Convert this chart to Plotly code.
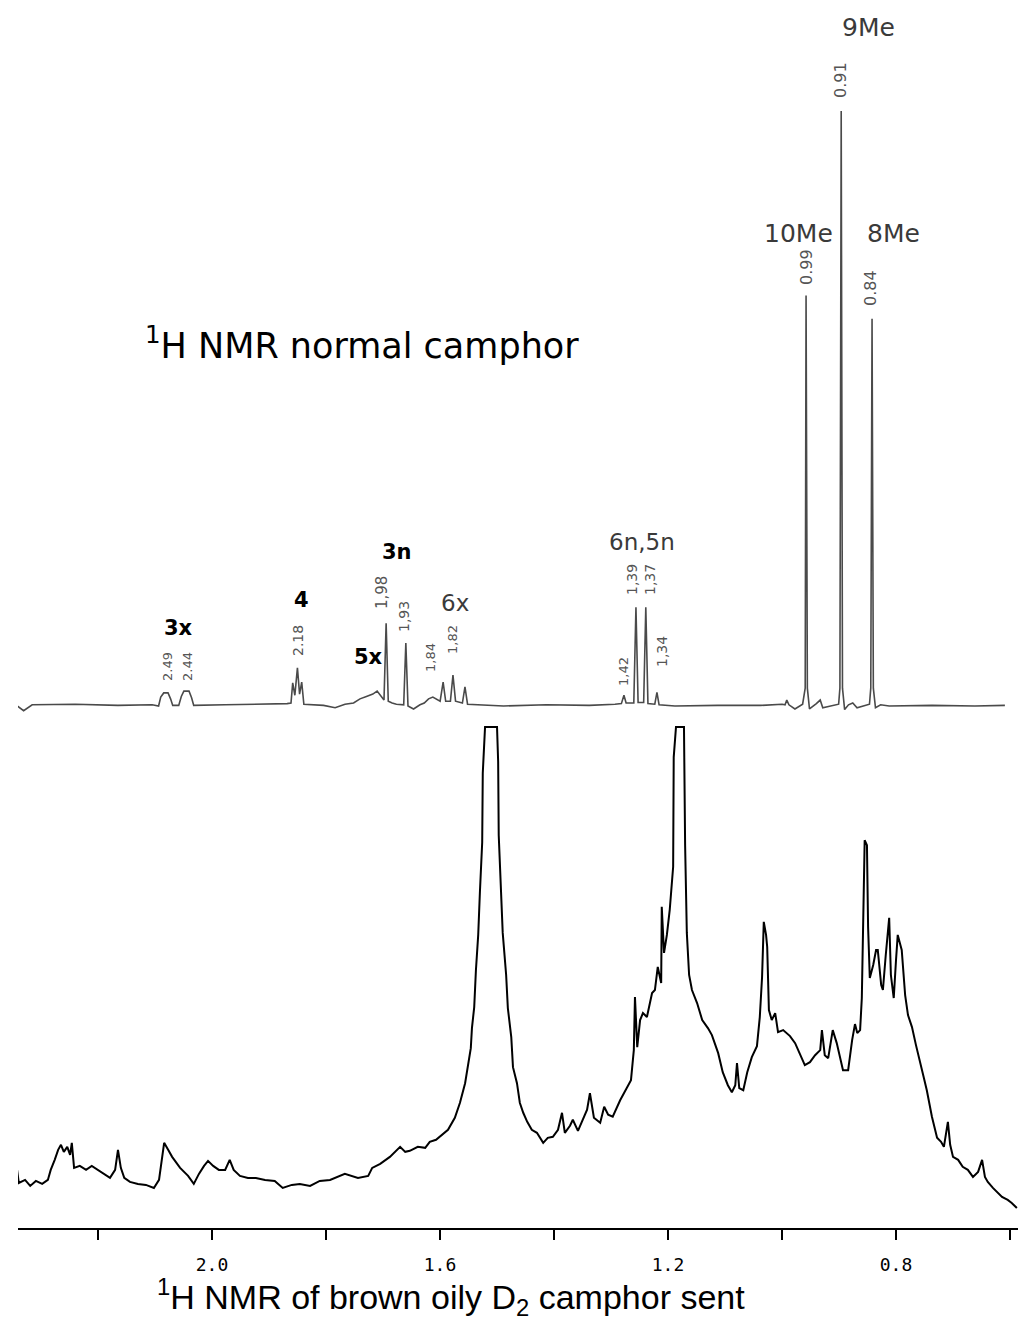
import plotly.graph_objects as go

# ---------------- data ----------------
# Bottom spectrum: 1H NMR of brown oily D2 camphor (ppm, relative intensity; 100 = clipped top)
bottom_ppm = [2.342, 2.339, 2.328, 2.319, 2.309, 2.298, 2.288, 2.283, 2.276, 2.270,
              2.265, 2.260, 2.254, 2.249, 2.246, 2.242, 2.232, 2.221, 2.211, 2.200,
              2.190, 2.179, 2.170, 2.165, 2.160, 2.154, 2.144, 2.130, 2.116, 2.102,
              2.093, 2.088, 2.084, 2.077, 2.070, 2.056, 2.042, 2.032, 2.023, 2.014,
              2.007, 1.998, 1.988, 1.977, 1.969, 1.962, 1.951, 1.937, 1.923, 1.907,
              1.890, 1.876, 1.860, 1.846, 1.828, 1.811, 1.793, 1.767, 1.744, 1.726,
              1.719, 1.705, 1.688, 1.670, 1.661, 1.653, 1.639, 1.626, 1.618, 1.607,
              1.597, 1.586, 1.574, 1.565, 1.556, 1.551, 1.546, 1.544, 1.540, 1.537,
              1.533, 1.530, 1.526, 1.525, 1.521, 1.500, 1.498, 1.497, 1.493, 1.490,
              1.484, 1.481, 1.475, 1.472, 1.465, 1.460, 1.454, 1.447, 1.439, 1.430,
              1.419, 1.411, 1.402, 1.393, 1.386, 1.381, 1.372, 1.367, 1.358, 1.349,
              1.342, 1.337, 1.330, 1.319, 1.312, 1.305, 1.297, 1.284, 1.272, 1.265,
              1.260, 1.258, 1.254, 1.249, 1.244, 1.237, 1.228, 1.223, 1.218, 1.212,
              1.211, 1.207, 1.202, 1.197, 1.191, 1.190, 1.186, 1.172, 1.170, 1.167,
              1.163, 1.158, 1.149, 1.140, 1.130, 1.123, 1.112, 1.104, 1.095, 1.088,
              1.082, 1.079, 1.075, 1.068, 1.061, 1.053, 1.044, 1.039, 1.035, 1.032,
              1.028, 1.026, 1.023, 1.018, 1.012, 1.007, 0.998, 0.986, 0.977, 0.968,
              0.960, 0.951, 0.942, 0.933, 0.930, 0.925, 0.919, 0.911, 0.904, 0.893,
              0.884, 0.877, 0.872, 0.868, 0.863, 0.860, 0.858, 0.855, 0.851, 0.849,
              0.846, 0.840, 0.835, 0.832, 0.826, 0.823, 0.818, 0.812, 0.809, 0.804,
              0.800, 0.797, 0.790, 0.784, 0.779, 0.772, 0.765, 0.758, 0.751, 0.746,
              0.737, 0.728, 0.721, 0.716, 0.709, 0.705, 0.700, 0.691, 0.683, 0.674,
              0.665, 0.656, 0.649, 0.644, 0.639, 0.630, 0.621, 0.614, 0.604, 0.597,
              0.588]
bottom_int = [11.6, 9.0, 9.6, 8.4, 9.4, 8.8, 9.6, 11.6, 13.6, 15.6,
              16.6, 15.2, 16.2, 14.6, 17.0, 12.0, 12.4, 11.6, 12.4, 11.6,
              10.8, 10.0, 11.6, 15.6, 12.0, 10.0, 9.2, 8.8, 8.6, 8.0,
              9.6, 13.6, 17.0, 15.6, 14.2, 12.0, 10.4, 8.8, 10.8, 12.4,
              13.4, 12.4, 11.6, 11.6, 13.6, 11.6, 10.4, 10.0, 10.0, 9.6,
              9.4, 8.0, 8.6, 8.8, 8.4, 9.4, 9.6, 10.8, 10.0, 10.4,
              12.0, 12.8, 14.2, 16.2, 15.2, 15.4, 16.2, 16.0, 17.2, 17.6,
              18.6, 19.6, 22.0, 25.0, 28.9, 32.9, 35.9, 39.9, 44.1, 51.5,
              58.5, 67.1, 77.0, 90.8, 100.0, 100.0, 93.0, 78.4, 66.9, 58.9,
              50.5, 43.9, 38.1, 32.1, 28.9, 25.0, 23.0, 21.2, 19.6, 19.0,
              17.0, 18.0, 18.2, 19.6, 23.0, 19.0, 20.4, 21.6, 19.4, 21.6,
              23.6, 26.9, 22.0, 21.0, 24.2, 22.6, 22.2, 25.5, 28.1, 29.5,
              35.5, 46.1, 36.1, 41.5, 42.9, 42.1, 46.9, 47.5, 52.1, 48.9,
              64.1, 54.9, 58.5, 63.5, 72.1, 94.0, 100.0, 100.0, 76.4, 58.9,
              50.5, 47.5, 44.9, 41.5, 39.9, 38.5, 34.9, 31.1, 28.5, 27.1,
              28.5, 32.9, 27.9, 27.5, 31.1, 34.1, 36.3, 42.1, 50.1, 61.1,
              58.5, 56.1, 43.5, 41.5, 42.9, 39.1, 39.5, 38.3, 36.9, 34.5,
              32.5, 33.1, 34.5, 35.5, 39.5, 34.5, 33.9, 39.5, 36.9, 31.5,
              31.5, 37.5, 40.7, 38.9, 39.5, 45.9, 59.9, 77.4, 76.4, 60.1,
              49.9, 52.5, 55.5, 55.5, 48.5, 47.5, 54.5, 61.9, 50.5, 45.9,
              53.5, 58.5, 55.5, 46.5, 42.5, 40.1, 36.5, 32.9, 29.9, 27.5,
              22.2, 18.0, 17.2, 16.2, 21.2, 16.6, 14.2, 13.6, 12.2, 11.6,
              10.2, 11.2, 13.6, 10.2, 9.2, 8.0, 7.0, 6.2, 5.6, 5.0,
              4.0]

# Top spectrum: 1H NMR normal camphor (its own ppm scale; 100 = 9Me peak)
top_ppm = [2.84, 2.82, 2.80, 2.70, 2.60, 2.52,
           2.505, 2.500, 2.493, 2.483, 2.477, 2.472, 2.458, 2.452, 2.446, 2.434, 2.428, 2.423,
           2.35, 2.25, 2.205,
           2.196, 2.192, 2.187, 2.181, 2.176, 2.171, 2.166,
           2.12, 2.093, 2.07,
           2.05, 2.035, 2.02, 2.005, 1.995, 1.985,
           1.979, 1.974, 1.969, 1.960, 1.950,
           1.933, 1.928, 1.923,
           1.91, 1.895, 1.885, 1.875, 1.865,
           1.848, 1.841, 1.835,
           1.824, 1.818, 1.812,
           1.796, 1.790, 1.784,
           1.76, 1.70, 1.60, 1.50, 1.44,
           1.425, 1.419, 1.414,
           1.396, 1.391, 1.386,
           1.373, 1.368, 1.363,
           1.347, 1.342, 1.337,
           1.30, 1.20, 1.10, 1.05,
           1.043, 1.039, 1.034, 1.02,
           1.002, 0.996, 0.994, 0.991, 0.986,
           0.97, 0.961, 0.955,
           0.918, 0.915, 0.912, 0.909, 0.904,
           0.895, 0.885, 0.875,
           0.846, 0.843, 0.840, 0.837, 0.832,
           0.82, 0.80, 0.70, 0.60, 0.53]
top_int = [0.3, -0.8, 0.2, 0.3, 0.1, 0.2,
           0.0, 1.5, 2.2, 2.2, 1.2, 0.1, 0.1, 1.6, 2.5, 2.5, 1.4, 0.1,
           0.2, 0.3, 0.4,
           0.5, 3.9, 1.8, 6.4, 2.0, 4.0, 0.3,
           0.1, -0.3, 0.3,
           0.5, 1.2, 1.6, 2.0, 2.5, 1.5,
           1.0, 13.9, 0.8, 0.5, 0.3,
           0.2, 10.6, 0.0,
           -0.5, 0.2, 0.5, 1.2, 1.5,
           0.8, 4.0, 0.8,
           0.8, 5.2, 0.8,
           0.5, 3.2, 0.3,
           0.2, 0.0, 0.2, 0.1, 0.3,
           0.4, 1.8, 0.5,
           0.5, 16.6, 0.6,
           0.6, 16.6, 0.4,
           0.3, 2.3, 0.2,
           0.0, 0.1, 0.1, 0.3,
           0.2, 1.0, 0.2, -0.5,
           0.3, 3.0, 69.0, 3.0, -0.5,
           0.4, 1.0, -0.3,
           0.3, 3.0, 100.0, 3.0, -0.6,
           0.2, 0.5, -0.3,
           0.3, 3.0, 65.1, 3.0, -0.3,
           0.2, 0.0, 0.1, 0.0, 0.1]

# Axis ticks of the bottom spectrum
tick_values = [2.0, 1.6, 1.2, 0.8]
tick_labels = ["2.0", "1.6", "1.2", "0.8"]
minor_tick_values = [2.2, 1.8, 1.4, 1.0, 0.6]

# Peak shift labels on the top spectrum
shift_labels = ["2.49", "2.44", "2.18", "1,98", "1,93", "1,84", "1,82",
                "1,42", "1,39", "1,37", "1,34", "0.99", "0.91", "0.84"]
# Assignment labels
assign_labels = ["9Me", "10Me", "8Me", "3n", "4", "3x", "5x", "6x", "6n,5n"]

# ---------------- figure ----------------
W, H = 1018, 1324
L, T, B = 18, 0, 96
PH = H - T - B  # plot height in px


def px(xp):
    return (xp - L) / (W - L)


def py(yp):
    return (PH - (yp - T)) / PH


fig = go.Figure()
fig.add_trace(go.Scatter(x=bottom_ppm, y=bottom_int, mode="lines",
                         line=dict(color="black", width=2),
                         xaxis="x", yaxis="y", showlegend=False, hoverinfo="skip"))
fig.add_trace(go.Scatter(x=top_ppm, y=top_int, mode="lines",
                         line=dict(color="#4a4a4a", width=1.6),
                         xaxis="x2", yaxis="y2", showlegend=False, hoverinfo="skip"))

fig.update_layout(
    width=W, height=H,
    margin=dict(l=L, r=0, t=T, b=B, pad=0),
    paper_bgcolor="white", plot_bgcolor="white",
    xaxis=dict(range=[2.3404, 0.5860], tickmode="array", tickvals=tick_values,
               ticktext=tick_labels, ticks="outside", ticklen=10, tickwidth=1.5,
               tickcolor="black", showline=True, linecolor="black", linewidth=2,
               showgrid=False, zeroline=False, ticklabelstandoff=9,
               minor=dict(tickmode="array", tickvals=minor_tick_values, ticks="outside",
                          ticklen=10, tickwidth=1.5, tickcolor="black", showgrid=False),
               tickfont=dict(family="DejaVu Sans Mono", size=18, color="black")),
    yaxis=dict(range=[0, PH / 5.01], visible=False, fixedrange=True),
    xaxis2=dict(range=[2.8331, 0.4994], overlaying="x", anchor="y2", visible=False),
    yaxis2=dict(range=[-(PH - 706) / 5.95, 706 / 5.95], overlaying="y", anchor="x2",
                visible=False),
)

ann = []
# rotated shift labels: (center x px, center y px, font size)
shift_pos = [(167, 667, 13), (187, 667, 13), (298, 641, 14), (382, 593, 15),
             (404, 617, 14), (430, 658, 13), (452, 640, 13), (623, 672, 13),
             (632, 580, 14), (650, 580, 14), (662, 652, 14), (806, 267, 16),
             (840, 80, 16), (870, 288, 16)]
for t, (xx, yy, fs) in zip(shift_labels, shift_pos):
    ann.append(dict(text=t, x=px(xx), y=py(yy), xref="paper", yref="paper",
                    textangle=-90, showarrow=False, xanchor="center", yanchor="middle",
                    font=dict(family="DejaVu Sans", size=fs, color="#555555")))

# (center x px, center y px, bold, size)
assign_pos = [(868, 27, False, 25), (798, 234, False, 25), (893, 234, False, 25),
              (397, 552, True, 21), (301, 600, True, 21), (178, 628, True, 21),
              (368, 657, True, 21), (455, 603, False, 23), (642, 542, False, 23)]
for t, (xx, yy, bold, fs) in zip(assign_labels, assign_pos):
    ann.append(dict(text=("<b>%s</b>" % t) if bold else t, x=px(xx), y=py(yy),
                    xref="paper", yref="paper", showarrow=False,
                    xanchor="center", yanchor="middle",
                    font=dict(family="DejaVu Sans", size=fs,
                              color="black" if bold else "#3a3a3a")))

ann.append(dict(text="<sup>1</sup>H NMR normal camphor", x=px(362), y=py(343),
                xref="paper", yref="paper", showarrow=False, xanchor="center",
                yanchor="middle", font=dict(family="DejaVu Sans", size=35, color="black")))
ann.append(dict(text="<sup>1</sup>H NMR of brown oily D<sub>2</sub> camphor sent",
                x=px(451), y=py(1297), xref="paper", yref="paper", showarrow=False,
                xanchor="center", yanchor="middle",
                font=dict(family="Liberation Sans", size=34, color="black")))
fig.update_layout(annotations=ann)

fig.write_html("out.html", config={"displayModeBar": False},
               post_script="document.body.style.margin='0';")
